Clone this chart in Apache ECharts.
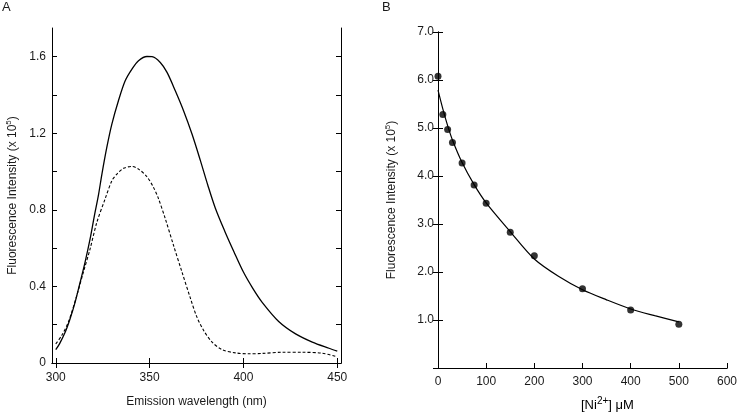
<!DOCTYPE html>
<html><head><meta charset="utf-8">
<script src="https://cdn.jsdelivr.net/npm/echarts@6/dist/echarts.min.js"></script>
<style>html,body{margin:0;padding:0;background:#fff}#c{width:740px;height:415px}</style>
</head><body><div id="c"></div>
<script>
// Panel A: emission spectra
const solidWl = [300,302,305,307.6,310.3,313,315.6,318.3,320.6,322.7,324.6,327.2,329.9,333.4,337,340.6,344.1,348.6,351.3,355.7,359.3,363.7,368.1,372.6,377,381,385,390,395,400,405,410,418.8,427.8,436.7,445.6,450];
const solidVal = [0.07,0.10,0.16,0.23,0.317,0.422,0.526,0.648,0.77,0.874,0.987,1.126,1.248,1.37,1.474,1.535,1.579,1.601,1.6,1.57,1.518,1.422,1.318,1.196,1.06,0.93,0.81,0.69,0.58,0.475,0.39,0.317,0.217,0.152,0.109,0.077,0.062];
const dashWl = [300,303.2,306.7,311.2,314.7,318.3,321.9,326.3,329.9,332.6,336.1,340.6,344.1,348.6,352.1,354.5,358.4,362.8,367.3,371.7,375,378.8,383.3,388.6,395.7,402.8,410,420.7,431.3,442,450];
const dashVal = [0.10,0.144,0.213,0.352,0.474,0.596,0.735,0.857,0.952,0.987,1.017,1.027,1.013,0.973,0.917,0.865,0.753,0.613,0.474,0.34,0.245,0.17,0.109,0.07,0.053,0.048,0.05,0.056,0.056,0.051,0.032];
const aXTicks = [300,350,400,450];
const aYTicks = [0,0.2,0.4,0.6,0.8,1.0,1.2,1.4,1.6];
const aYLabels = [0,0.4,0.8,1.2,1.6];

// Panel B: quenching by Ni2+
const niConc = [0,10,20,30,50,75,100,150,200,300,400,500];
const niFluo = [6.08,5.28,4.97,4.70,4.27,3.81,3.43,2.83,2.34,1.65,1.21,0.91];
const fitConc = [0,10,20,30,50,75,100,150,200,250,300,350,400,450,500];
const fitFluo = [5.79,5.40,5.05,4.75,4.28,3.82,3.44,2.84,2.27,1.91,1.63,1.42,1.23,1.09,0.96];

const zip = (a,b) => a.map((v,i)=>[v,b[i]]);
const FONT = 'Liberation Sans, Arial, sans-serif';
const TC = '#1a1a1a';
const tick = {show:true, inside:true, length:5, lineStyle:{color:'#000', width:1}};
const line = {show:true, lineStyle:{color:'#000', width:1}};
const lbl = {color:TC, fontFamily:FONT, fontSize:12};
const rich = {a:{fontFamily:FONT, fontSize:12, color:TC}, s:{fontFamily:FONT, fontSize:8, color:TC, padding:[0,0,8,0]}};
const richBig = {a:{fontFamily:FONT, fontSize:13, color:TC}, s:{fontFamily:FONT, fontSize:10, color:TC, padding:[0,0,8,0]}};

const chart = echarts.init(document.getElementById('c'), null, {renderer:'canvas'});
chart.setOption({
  animation:false,
  backgroundColor:'#fff',
  grid:[
    {left:52, top:28, width:289, height:335, show:false},
    {left:438, top:32, width:292, height:336, show:false}
  ],
  xAxis:[
    {gridIndex:0, type:'value', min:298, max:452, position:'bottom',
     axisLine:line, splitLine:{show:false},
     axisTick:Object.assign({customValues:aXTicks}, tick),
     axisLabel:Object.assign({customValues:aXTicks, margin:9}, lbl),
     name:'Emission wavelength (nm)', nameLocation:'middle', nameGap:33,
     nameTextStyle:{fontFamily:FONT, fontSize:12, color:TC}},
    {gridIndex:0, type:'value', min:298, max:452, position:'top',
     axisLine:line, splitLine:{show:false},
     axisTick:Object.assign({customValues:aXTicks}, tick),
     axisLabel:{show:false}},
    {gridIndex:1, type:'value', min:0, max:600, interval:100, position:'bottom',
     axisLine:line, splitLine:{show:false}, axisTick:tick,
     axisLabel:Object.assign({margin:8}, lbl)},
    {gridIndex:1, type:'value', min:0, max:600, interval:100, position:'top',
     axisLine:line, splitLine:{show:false}, axisTick:{show:false}, axisLabel:{show:false}}
  ],
  yAxis:[
    {gridIndex:0, type:'value', min:0, max:1.75, position:'left',
     axisLine:line, splitLine:{show:false},
     axisTick:Object.assign({customValues:aYTicks}, tick),
     axisLabel:Object.assign({customValues:aYLabels, margin:6,
        formatter:v => v===0 ? '0' : v.toFixed(1)}, lbl),
     name:'{a|Fluorescence Intensity (x 10}{s|5}{a|)}', nameLocation:'middle', nameGap:31, nameRotate:90,
     nameTextStyle:{rich:rich}},
    {gridIndex:0, type:'value', min:0, max:1.75, position:'right',
     axisLine:line, splitLine:{show:false},
     axisTick:Object.assign({customValues:aYTicks}, tick),
     axisLabel:{show:false}},
    {gridIndex:1, type:'value', min:0, max:7, interval:1, position:'left',
     axisLine:line, splitLine:{show:false}, axisTick:tick,
     axisLabel:Object.assign({margin:4, formatter:v => v===0 ? '' : v.toFixed(1)}, lbl),
     name:'{a|Fluorescence Intensity (x 10}{s|5}{a|)}', nameLocation:'middle', nameGap:38, nameRotate:90,
     nameTextStyle:{rich:rich}},
    {gridIndex:1, type:'value', min:0, max:7, interval:1, position:'right',
     axisLine:line, splitLine:{show:false}, axisTick:tick, axisLabel:{show:false}}
  ],
  graphic:[
    {type:'text', left:2, top:1, style:{text:'A', font:'13px '+FONT, fill:TC}},
    {type:'text', left:382, top:1, style:{text:'B', font:'13px '+FONT, fill:TC}},
    {type:'text', left:581, top:396, style:{text:'{a|[Ni}{s|2+}{a|] μM}', rich:richBig}}
  ],
  series:[
    {type:'line', xAxisIndex:0, yAxisIndex:0, data:zip(solidWl, solidVal), smooth:0.3, showSymbol:false,
     lineStyle:{color:'#000', width:1.3}},
    {type:'line', xAxisIndex:0, yAxisIndex:0, data:zip(dashWl, dashVal), smooth:0.3, showSymbol:false,
     lineStyle:{color:'#000', width:1.1, type:[3,2]}},
    {type:'line', xAxisIndex:2, yAxisIndex:2, data:zip(fitConc, fitFluo), smooth:0.3, showSymbol:false,
     lineStyle:{color:'#000', width:1.2}},
    {type:'scatter', xAxisIndex:2, yAxisIndex:2, data:zip(niConc, niFluo), symbol:'circle', symbolSize:7,
     itemStyle:{color:'#000'}}
  ]
});
</script></body></html>
